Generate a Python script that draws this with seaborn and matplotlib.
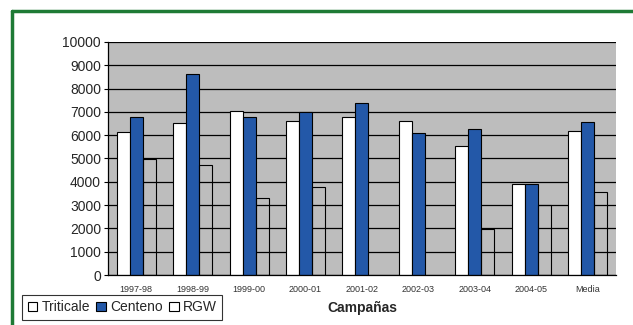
import matplotlib
matplotlib.use("Agg")
import matplotlib.pyplot as plt
from matplotlib.lines import Line2D
from matplotlib.patches import Patch
import numpy as np
import pandas as pd
import seaborn as sns

campaigns = ["1997-98", "1998-99", "1999-00", "2000-01", "2001-02",
             "2002-03", "2003-04", "2004-05", "Media"]
triticale = [6150, 6510, 7040, 6620, 6770, 6610, 5550, 3890, 6170]
centeno = [6790, 8630, 6770, 6980, 7370, 6110, 6280, 3890, 6570]
rgw = [4960, 4710, 3290, 3790, np.nan, np.nan, 1960, 3000, 3580]
series = ["Triticale", "Centeno", "RGW"]

df = pd.DataFrame({"Campaña": campaigns * 3,
                   "Serie": ["Triticale"] * 9 + ["Centeno"] * 9 + ["RGW"] * 9,
                   "Valor": triticale + centeno + rgw})

sns.set_style("white")
plt.rcParams["font.family"] = ["Liberation Sans", "DejaVu Sans"]

fig = plt.figure(figsize=(6.33, 3.25), dpi=100)
ax = fig.add_axes([0.1706, 0.1538, 0.8024, 0.7172])
ax.set_facecolor("#bdbdbd")

colors = {"Triticale": "white", "Centeno": "#2358a8", "RGW": "white"}
sns.barplot(data=df, x="Campaña", y="Valor", hue="Serie", hue_order=series,
            palette=colors, width=0.69, saturation=1, ax=ax,
            edgecolor="black", linewidth=0.8, legend=False)

# RGW bars have no fill: the grid shows through them
for bar in ax.containers[2]:
    bar.set_facecolor("none")

ax.set_ylim(0, 10000)
ax.set_xlim(-0.5, len(campaigns) - 0.5)
ax.set_yticks(range(0, 10001, 1000))
ax.yaxis.grid(True, color="black", linewidth=0.9)
ax.set_axisbelow(True)

for s in ["top", "right"]:
    ax.spines[s].set_visible(False)
for s in ["left", "bottom"]:
    ax.spines[s].set_color("black")
    ax.spines[s].set_linewidth(0.9)

ax.set_xticks(np.arange(-0.5, len(campaigns), 1), minor=True)
ax.tick_params(axis="x", which="major", length=0, labelsize=6.5,
               labelcolor="#333333", pad=7)
ax.tick_params(axis="x", which="minor", length=3, color="black", direction="out")
ax.tick_params(axis="y", length=3, color="black", direction="out",
               labelsize=10, pad=2)
ax.tick_params(axis="both", bottom=True, left=True)

ax.set_xlabel("Campañas", fontsize=10, fontweight="bold", labelpad=5)
ax.set_ylabel("")

handles = [Patch(facecolor=colors[s], edgecolor="black", linewidth=0.8) for s in series]
leg = fig.legend(handles, series, loc="lower left", bbox_to_anchor=(22 / 633, 5 / 325),
                 ncol=3, fontsize=10, frameon=True, fancybox=False,
                 handlelength=0.7, handleheight=0.7, handletextpad=0.3,
                 columnspacing=0.45, borderpad=0.4, borderaxespad=0)
leg.get_frame().set_edgecolor("black")
leg.get_frame().set_linewidth(0.8)

# green frame around the figure (top and left edges visible)
fig.add_artist(Line2D([11.5 / 633, 1.0], [1 - 11 / 325, 1 - 11 / 325],
                      transform=fig.transFigure, color="#1e7a35", linewidth=2.5))
fig.add_artist(Line2D([11.5 / 633, 11.5 / 633], [0, 1 - 11 / 325],
                      transform=fig.transFigure, color="#1e7a35", linewidth=2.5))

fig.savefig("out.png", dpi=100)
plt.close("all")
